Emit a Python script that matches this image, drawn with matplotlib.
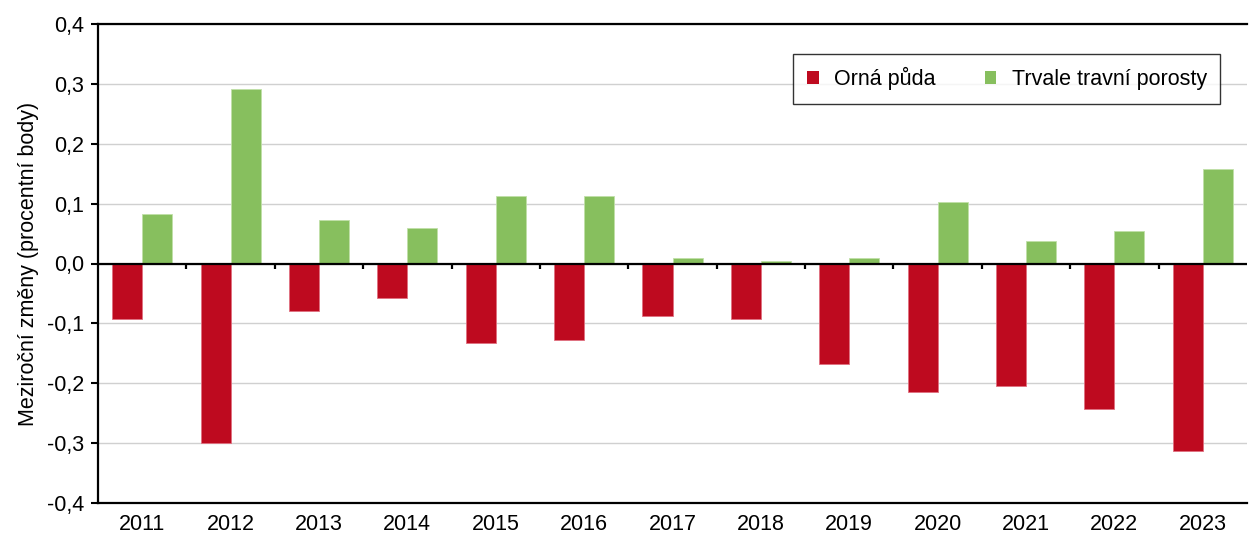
import matplotlib
matplotlib.use("Agg")
import matplotlib.pyplot as plt
from matplotlib.patches import Patch
from matplotlib.ticker import FuncFormatter, MultipleLocator
import numpy as np

plt.rcParams['font.family'] = ['Liberation Sans', 'DejaVu Sans']

years = ['2011', '2012', '2013', '2014', '2015', '2016', '2017', '2018',
         '2019', '2020', '2021', '2022', '2023']
orna_puda = [-0.092, -0.300, -0.080, -0.058, -0.133, -0.128, -0.087, -0.092,
             -0.168, -0.215, -0.205, -0.243, -0.313]
trvale_travni = [0.083, 0.292, 0.072, 0.060, 0.113, 0.112, 0.010, 0.005,
                 0.010, 0.102, 0.038, 0.055, 0.158]
series_names = ['Orná půda', 'Trvale travní porosty']

red = '#BE0A1F'
green = '#87BF5E'
fs = 15.5

fig = plt.figure(figsize=(12.5, 5.38), dpi=100)
ax = fig.add_axes([98/1250, 1 - 503/538, (1247-98)/1250, (503-24)/538])

x = np.arange(len(years))
w = 0.34
ax.bar(x - w/2, orna_puda, width=w, color=red, edgecolor='#E07080', linewidth=0.6, zorder=3)
ax.bar(x + w/2, trvale_travni, width=w, color=green, edgecolor='#C0E0A8', linewidth=0.6, zorder=3)

ax.set_xlim(-0.5, len(years) - 0.5)
ax.set_ylim(-0.4, 0.4)
ax.yaxis.set_major_locator(MultipleLocator(0.1))
ax.yaxis.set_major_formatter(FuncFormatter(lambda v, p: f"{v:.1f}".replace('.', ',').replace('-0,0', '0,0')))
ax.grid(axis='y', color='#D0D0D0', linewidth=1.0, zorder=0)
ax.set_axisbelow(True)

ax.axhline(0, color='black', linewidth=1.6, zorder=4)
bounds = np.arange(0.5, len(years) - 0.5, 1.0)
ax.vlines(bounds, -0.009, 0, color='black', linewidth=1.6, zorder=4)

ax.set_xticks(x)
ax.set_xticklabels(years)
ax.tick_params(axis='x', length=0, pad=8, labelsize=fs)
ax.tick_params(axis='y', length=5, width=1.5, direction='out', pad=5, labelsize=fs)

for s in ['left', 'top', 'bottom']:
    ax.spines[s].set_linewidth(1.6)
    ax.spines[s].set_color('black')
ax.spines['right'].set_visible(False)

ax.set_ylabel('Meziroční změny (procentní body)', fontsize=fs, labelpad=6)

handles = [Patch(facecolor=red, edgecolor='none'), Patch(facecolor=green, edgecolor='none')]
leg = ax.legend(handles, series_names, loc='upper right', bbox_to_anchor=(1122/1149, (503-54)/479),
                ncol=2, fontsize=fs, frameon=True, fancybox=False, edgecolor='black',
                handlelength=0.55, handleheight=0.55, handletextpad=0.7, columnspacing=2.3,
                borderpad=0.62, borderaxespad=0)
leg.get_frame().set_linewidth(1.0)

fig.savefig('out.png', dpi=100)
